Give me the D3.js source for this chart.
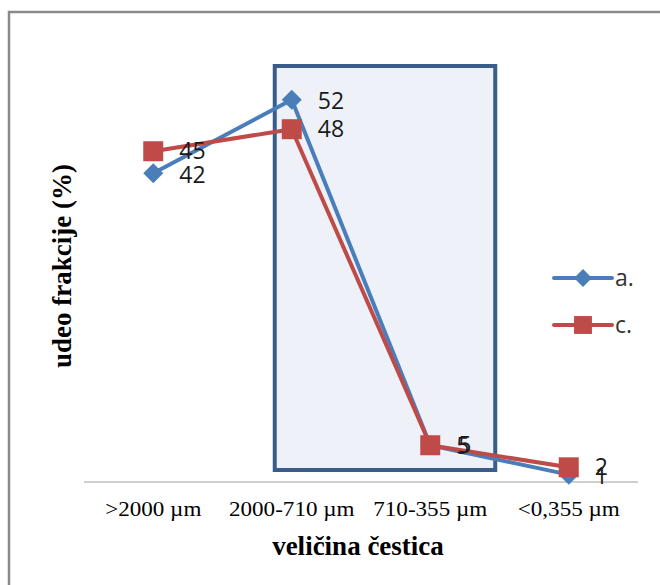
<!DOCTYPE html>
<html><head><meta charset="utf-8">
<script src="https://cdn.jsdelivr.net/npm/d3@7"></script>
<style>body{margin:0;background:#fff}svg{display:block}</style>
</head><body>
<svg id="c" width="660" height="585"></svg>
<script>
const categories = [">2000 \u00b5m", "2000-710 \u00b5m", "710-355 \u00b5m", "<0,355 \u00b5m"];
const seriesNames = ["a.", "c."];
const seriesA = [42, 52, 5, 1];
const seriesC = [45, 48, 5, 2];
const highlightCats = ["2000-710 \u00b5m", "710-355 \u00b5m"];

const svg = d3.select("#c");
const x = d3.scalePoint().domain(categories).range([84, 638]).padding(0.5);
const y = d3.scaleLinear().domain([0, 60]).range([482, 41]);

// outer frame
svg.append("path").attr("d", "M9,600 L9,12 L680,12").attr("fill", "none")
  .attr("stroke", "#8a8a8a").attr("stroke-width", 2.5);

// highlight rectangle
const hx0 = x(highlightCats[0]) - 17;
const hx1 = x(highlightCats[1]) + 65;
svg.append("rect").attr("x", hx0).attr("y", 66).attr("width", hx1 - hx0).attr("height", 404)
  .attr("fill", "#eef2f8").attr("stroke", "#385d8a").attr("stroke-width", 4);

// x axis
svg.append("line").attr("x1", 84).attr("x2", 638).attr("y1", y(0)).attr("y2", y(0))
  .attr("stroke", "#a0a0a0").attr("stroke-width", 1.2);

svg.selectAll(".tl").data(categories).enter().append("text")
  .attr("transform", d => `translate(${x(d)},516) scale(1.1,1)`).attr("text-anchor", "middle")
  .attr("font-family", "Liberation Serif").attr("font-size", 21).attr("fill", "#000")
  .text(d => d);

svg.append("text").attr("x", 358).attr("y", 555).attr("text-anchor", "middle")
  .attr("font-family", "Liberation Serif").attr("font-weight", "bold").attr("font-size", 27)
  .text("veli\u010dina \u010destica");
svg.append("text").attr("transform", "translate(71,266) rotate(-90)").attr("text-anchor", "middle")
  .attr("font-family", "Liberation Serif").attr("font-weight", "bold").attr("font-size", 27)
  .text("udeo frakcije (%)");

const blue = "#4a7ebb", red = "#be4b48";
const line = d3.line().x((d, i) => x(categories[i])).y(d => y(d));
const diamond = d3.symbol().type(d3.symbolSquare).size(200);
const square = d3.symbol().type(d3.symbolSquare).size(400);

function drawSeries(vals, color, marker, rot) {
  svg.append("path").attr("d", line(vals)).attr("fill", "none").attr("stroke", color)
    .attr("stroke-width", 4).attr("stroke-linejoin", "round");
  svg.selectAll(null).data(vals).enter().append("path")
    .attr("d", marker)
    .attr("transform", (d, i) => `translate(${x(categories[i])},${y(d)}) rotate(${rot})`)
    .attr("fill", color);
}
drawSeries(seriesA, blue, diamond, 45);
drawSeries(seriesC, red, square, 0);

svg.selectAll(null).data(seriesA).enter().append("text")
  .attr("x", (d, i) => x(categories[i]) + 26).attr("y", (d, i) => y(d) + (i === 0 ? 10 : 9))
  .attr("font-family", "Open Sans").attr("font-size", 23).attr("fill", "#1a1a1a").text(d => d);
svg.selectAll(null).data(seriesC).enter().append("text")
  .attr("x", (d, i) => x(categories[i]) + (i === 2 ? 28 : 26)).attr("y", (d, i) => y(d) + 8)
  .attr("font-family", "Open Sans").attr("font-size", 23).attr("fill", "#1a1a1a").text(d => d);

// legend
const legY = [278, 325];
const legColors = [blue, red];
const legMarkers = [d3.symbol().type(d3.symbolSquare).size(160), d3.symbol().type(d3.symbolSquare).size(320)];
seriesNames.forEach((n, i) => {
  svg.append("line").attr("x1", 554).attr("x2", 612).attr("y1", legY[i]).attr("y2", legY[i])
    .attr("stroke", legColors[i]).attr("stroke-width", 4).attr("stroke-linecap", "round");
  svg.append("path").attr("d", legMarkers[i]())
    .attr("transform", `translate(583,${legY[i]}) rotate(${i === 0 ? 45 : 0})`).attr("fill", legColors[i]);
  svg.append("text").attr("x", 615).attr("y", legY[i] + 8).attr("font-family", "Open Sans")
    .attr("font-size", 23).attr("fill", "#333").text(n);
});
</script>
</body></html>
